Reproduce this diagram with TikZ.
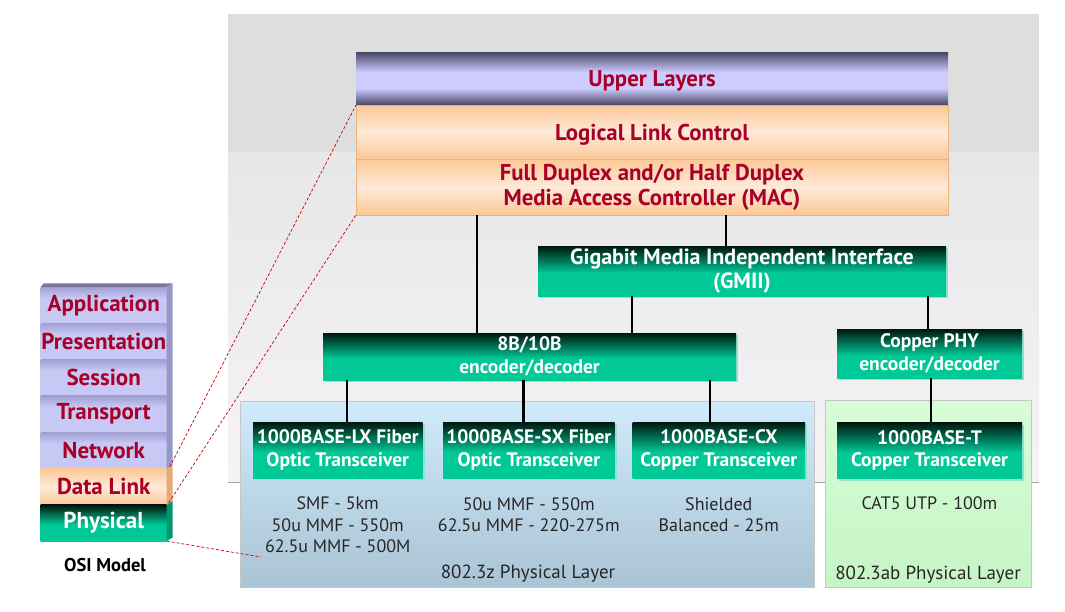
\documentclass[tikz,border=0pt]{standalone}
\usepackage{fontspec}
\setmainfont{PT Sans}
\usetikzlibrary{shadows}

\definecolor{labelred}{RGB}{168,0,40}
\definecolor{tealtop}{RGB}{0,22,14}
\definecolor{tealbot}{RGB}{0,200,150}
\definecolor{tealglow}{RGB}{150,225,205}
\definecolor{updark}{RGB}{72,70,100}
\definecolor{uplight}{RGB}{204,204,255}
\definecolor{orng}{RGB}{253,200,150}
\definecolor{orlight}{RGB}{253,234,216}
\definecolor{pdark}{RGB}{160,160,210}
\definecolor{plight}{RGB}{200,200,245}
\definecolor{sidepurple}{RGB}{150,150,200}
\definecolor{sideorange}{RGB}{225,170,120}
\definecolor{sidegreen}{RGB}{0,150,110}
\definecolor{topface}{RGB}{120,120,160}
\definecolor{bandgray}{RGB}{222,222,222}
\definecolor{bandlight}{RGB}{245,243,246}
\definecolor{bluetop}{RGB}{207,234,250}
\definecolor{bluebot}{RGB}{170,196,214}
\definecolor{greentop}{RGB}{215,253,215}
\definecolor{greenbot}{RGB}{198,245,198}
\definecolor{zoomred}{RGB}{200,0,0}

\pgfdeclareverticalshading{tealshade}{100bp}{color(0bp)=(tealbot); color(48bp)=(tealbot); color(75bp)=(tealtop); color(100bp)=(tealtop)}
\pgfdeclareverticalshading{uppershade}{100bp}{color(0bp)=(updark); color(25bp)=(updark); color(41bp)=(uplight); color(56bp)=(uplight); color(75bp)=(updark); color(100bp)=(updark)}
\pgfdeclareverticalshading{orangeshade}{100bp}{color(0bp)=(orng); color(25bp)=(orng); color(50bp)=(orlight); color(75bp)=(orng); color(100bp)=(orng)}
\pgfdeclareverticalshading{purpleshade}{100bp}{color(0bp)=(plight); color(60bp)=(plight); color(75bp)=(pdark); color(100bp)=(pdark)}

\begin{document}
\begin{tikzpicture}[x=1pt,y=-1pt,
    bigbox/.style={minimum width=592pt, inner sep=0pt, outer sep=0pt, align=center,
      text=labelred, font=\fontsize{22.8}{25}\selectfont\bfseries},
    tealbox/.style={shading=tealshade, inner sep=0pt, outer sep=0pt, align=center,
      text=white, font=\fontsize{19.5}{22.5}\selectfont\bfseries,
      drop shadow={shadow xshift=2pt, shadow yshift=-2pt, fill=tealglow, opacity=1}},
    osilayer/.style={minimum width=126pt, minimum height=36.3pt, inner sep=0pt, outer sep=0pt,
      text=labelred, font=\fontsize{23}{26}\selectfont\bfseries},
    note/.style={align=center, text=black!85, font=\fontsize{18}{21.5}\selectfont},
    link/.style={line width=2.6pt, black},
    zoomline/.style={zoomred, line width=0.7pt, dash pattern=on 3pt off 2pt}]
  \useasboundingbox (0,0) rectangle (1065,611);

  % background panels
  \fill[bandgray] (228,14) rectangle (1039,152);
  \shade[top color=bandgray!60!bandlight, bottom color=bandlight] (228,152) rectangle (1039,482);
  \draw[gray!70, line width=0.8pt] (228,482) -- (1039,482);
  \shade[top color=bluetop, bottom color=bluebot, draw=gray!45] (240,401) rectangle (814,587);
  \shade[top color=greentop, bottom color=greenbot, draw=gray!45] (825,400) rectangle (1031,587);

  % upper stack
  \node[bigbox, shading=uppershade, minimum height=53pt, text depth=0pt] (upper) at (652,78.5) {Upper Layers};
  \node[bigbox, shading=orangeshade, minimum height=54pt, draw=orng!70!brown, text depth=0pt] (llc) at (652,132) {Logical Link Control};
  \node[bigbox, shading=orangeshade, minimum height=56pt, draw=orng!70!brown] (mac) at (652,187)
    {Full Duplex and/or Half Duplex\\Media Access Controller (MAC)};

  % green boxes
  \node[tealbox, minimum width=408pt, minimum height=50pt, font=\fontsize{22}{23.5}\selectfont\bfseries] (gmii) at (742,271)
    {Gigabit Media Independent Interface\\(GMII)};
  \node[tealbox, minimum width=413pt, minimum height=47pt] (enc) at (529.5,356.5) {8B/10B\\encoder/decoder};
  \node[tealbox, minimum width=185pt, minimum height=49pt] (phy) at (929.5,353.5) {Copper PHY\\encoder/decoder};
  \node[tealbox, minimum width=169.5pt, minimum height=56pt] (lx) at (337.75,450) {1000BASE-LX Fiber\\Optic Transceiver};
  \node[tealbox, minimum width=171.6pt, minimum height=56pt] (sx) at (528.8,450) {1000BASE-SX Fiber\\Optic Transceiver};
  \node[tealbox, minimum width=172.4pt, minimum height=56pt] (cx) at (718.8,450) {1000BASE-CX\\Copper Transceiver};
  \node[tealbox, minimum width=185pt, minimum height=56pt] (utp) at (929.5,450.5) {1000BASE-T\\Copper Transceiver};

  % connectors
  \coordinate (xa) at (477,0);
  \coordinate (xb) at (726,0);
  \coordinate (xc) at (632,0);
  \coordinate (xd) at (928,0);
  \draw[link] (mac.south -| xa) -- (enc.north -| xa);
  \draw[link] (mac.south -| xb) -- (gmii.north -| xb);
  \draw[link] (gmii.south -| xc) -- (enc.north -| xc);
  \draw[link] (gmii.south -| xd) -- (phy.north -| xd);
  \coordinate (ya) at (347,0);
  \coordinate (yb) at (523.5,0);
  \coordinate (yc) at (710,0);
  \coordinate (yd) at (931,0);
  \draw[link] (enc.south -| ya) -- (lx.north -| ya);
  \draw[link] (enc.south -| yb) -- (sx.north -| yb);
  \draw[link] (enc.south -| yc) -- (cx.north -| yc);
  \draw[link] (phy.south -| yd) -- (utp.north -| yd);

  % media notes
  \node[note] (lxnote) at (337.7,525) {SMF - 5km\\50u MMF - 550m\\62.5u MMF - 500M};
  \node[note] (sxnote) at (528.8,514.5) {50u MMF - 550m\\62.5u MMF - 220-275m};
  \node[note] (cxnote) at (718.8,514.5) {Shielded\\Balanced - 25m};
  \node[note] (utpnote) at (929.5,503) {CAT5 UTP - 100m};
  \node[note, font=\fontsize{19}{22}\selectfont] (zlayer) at (528,574) {802.3z Physical Layer};
  \node[note, font=\fontsize{19}{22}\selectfont] (ablayer) at (928,575) {802.3ab Physical Layer};

  % OSI stack
  \node[osilayer, shading=purpleshade] (app) at (103.7,305.15) {Application};
  \node[osilayer, shading=purpleshade] (pres) at (103.7,341.45) {Presentation};
  \node[osilayer, shading=purpleshade] (sess) at (103.7,377.75) {Session};
  \node[osilayer, shading=purpleshade] (trans) at (103.7,414.05) {Transport};
  \node[osilayer, shading=purpleshade] (net) at (103.7,450.35) {Network};
  \node[osilayer, shading=orangeshade] (dl) at (103.7,486.65) {Data Link};
  \node[osilayer, shading=tealshade, text=white] (phys) at (103.7,522.95) {Physical};
  \fill[topface] (app.north west) -- ([xshift=3pt,yshift=3.7pt]app.north west)
    -- ([xshift=6pt,yshift=3.7pt]app.north east) -- (app.north east) -- cycle;
  \fill[sidepurple] (app.north east) -- ([xshift=6pt,yshift=3.7pt]app.north east)
    -- ([xshift=6pt,yshift=3.7pt]net.south east) -- (net.south east) -- cycle;
  \fill[sideorange] (dl.north east) -- ([xshift=6pt,yshift=3.7pt]dl.north east)
    -- ([xshift=6pt,yshift=3.7pt]dl.south east) -- (dl.south east) -- cycle;
  \fill[sidegreen] (phys.north east) -- ([xshift=6pt,yshift=3.7pt]phys.north east)
    -- ([xshift=6pt,yshift=3.7pt]phys.south east) -- (phys.south east) -- cycle;
  \node[font=\fontsize{18.5}{22}\selectfont\bfseries] (osi) at (105,565) {OSI Model};

  % zoom lines
  \coordinate (pend) at (261,557);
  \draw[zoomline] ([xshift=3pt,yshift=1.5pt]dl.north east) -- (upper.south west);
  \draw[zoomline] ([xshift=2pt,yshift=2pt]dl.south east) -- (mac.south west);
  \draw[zoomline] (phys.south east) -- (pend);
\end{tikzpicture}
\end{document}
